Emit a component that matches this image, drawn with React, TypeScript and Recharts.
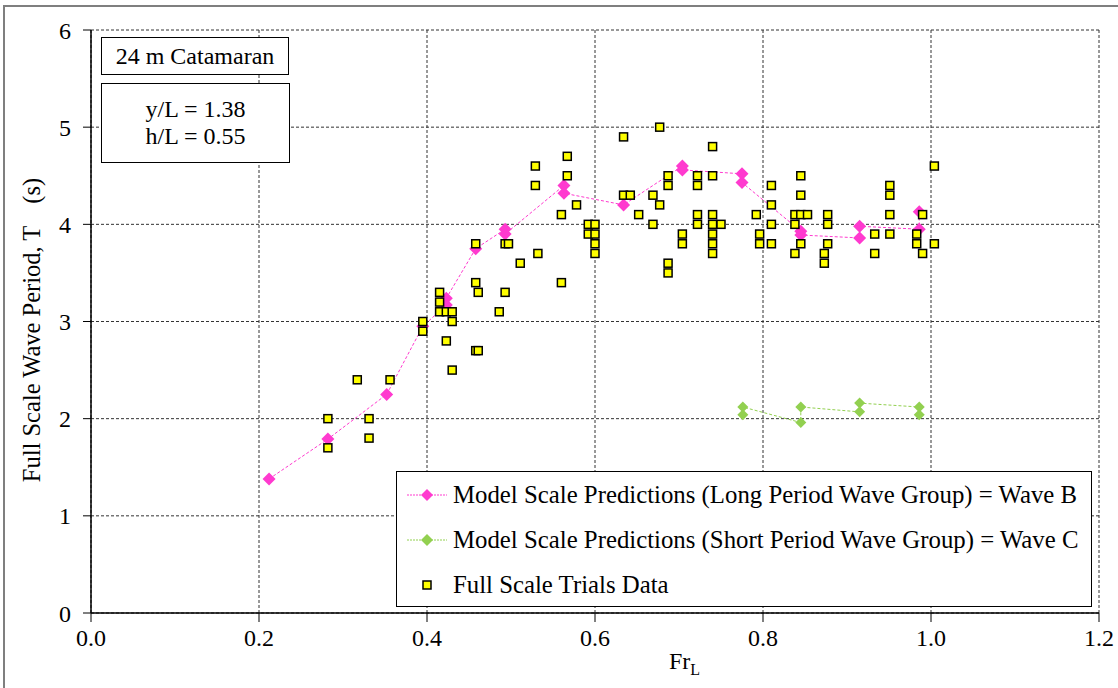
import { ScatterChart, Scatter, XAxis, YAxis, CartesianGrid } from 'recharts';

// Excel-ish look: Times metrics, black axes, dashed grid
const FONT = '"Liberation Serif", "Times New Roman", serif';
const COLOR_WAVE_B = '#FF3ACF';
const COLOR_WAVE_C = '#92D050';
const COLOR_TRIALS = '#FFFF00';
const COLOR_GRID = '#333';

const X_TICKS = [0, 0.2, 0.4, 0.6, 0.8, 1.0, 1.2];
const Y_TICKS = [0, 1, 2, 3, 4, 5, 6];

const LABEL_WAVE_B = 'Model Scale Predictions (Long Period Wave Group) = Wave B';
const LABEL_WAVE_C = 'Model Scale Predictions (Short Period Wave Group) = Wave C';
const LABEL_TRIALS = 'Full Scale Trials Data';

// model scale, long period group (wave B)
const waveBFr = [0.212, 0.282, 0.352, 0.395, 0.423, 0.423, 0.458, 0.493, 0.493, 0.563, 0.563,
  0.634, 0.704, 0.704, 0.775, 0.775, 0.845, 0.845, 0.915, 0.915, 0.986, 0.986];
const waveBT = [1.38, 1.79, 2.25, 2.95, 3.17, 3.24, 3.75, 3.95, 3.9, 4.4, 4.32,
  4.2, 4.6, 4.56, 4.52, 4.43, 3.93, 3.89, 3.86, 3.98, 3.95, 4.13];

// model scale, short period group (wave C)
const waveCFr = [0.776, 0.776, 0.845, 0.845, 0.915, 0.915, 0.986, 0.986];
const waveCT = [2.04, 2.12, 1.96, 2.12, 2.07, 2.16, 2.12, 2.04];

// full scale trials
const trialsFr = [
  0.282, 0.282, 0.317, 0.331, 0.331, 0.356, 0.395, 0.395, 0.415, 0.415, 0.415, 0.423, 0.423,
  0.43, 0.43, 0.43, 0.458, 0.458, 0.458, 0.461, 0.461, 0.486, 0.493, 0.493, 0.497, 0.511,
  0.529, 0.529, 0.532, 0.56, 0.56, 0.567, 0.567, 0.578, 0.592, 0.592, 0.6, 0.6, 0.6, 0.6,
  0.634, 0.634, 0.642, 0.652, 0.669, 0.669, 0.677, 0.677, 0.687, 0.687, 0.687, 0.687,
  0.704, 0.704, 0.722, 0.722, 0.722, 0.722, 0.74, 0.74, 0.74, 0.74, 0.74, 0.74, 0.74, 0.75,
  0.792, 0.796, 0.796, 0.81, 0.81, 0.81, 0.81, 0.838, 0.838, 0.838, 0.845, 0.845, 0.845, 0.845,
  0.853, 0.873, 0.873, 0.877, 0.877, 0.877, 0.933, 0.933, 0.951, 0.951, 0.951, 0.951,
  0.983, 0.983, 0.99, 0.99, 1.004, 1.004,
];
const trialsT = [
  2.0, 1.7, 2.4, 2.0, 1.8, 2.4, 3.0, 2.9, 3.3, 3.2, 3.1, 3.1, 2.8,
  3.1, 3.0, 2.5, 3.8, 3.4, 2.7, 3.3, 2.7, 3.1, 3.8, 3.3, 3.8, 3.6,
  4.6, 4.4, 3.7, 4.1, 3.4, 4.7, 4.5, 4.2, 4.0, 3.9, 4.0, 3.9, 3.8, 3.7,
  4.9, 4.3, 4.3, 4.1, 4.3, 4.0, 5.0, 4.2, 4.5, 4.4, 3.6, 3.5,
  3.9, 3.8, 4.5, 4.4, 4.1, 4.0, 4.8, 4.5, 4.1, 4.0, 3.9, 3.8, 3.7, 4.0,
  4.1, 3.9, 3.8, 4.4, 4.2, 4.0, 3.8, 4.1, 4.0, 3.7, 4.5, 4.3, 4.1, 3.8,
  4.1, 3.7, 3.6, 4.1, 4.0, 3.8, 3.9, 3.7, 4.4, 4.3, 4.1, 3.9,
  3.9, 3.8, 4.1, 3.7, 4.6, 3.8,
];

const toPoints = (fr: number[], t: number[]) => fr.map((x, i) => ({ fr: x, t: t[i] }));
const waveB = toPoints(waveBFr, waveBT);
const waveC = toPoints(waveCFr, waveCT);
const trials = toPoints(trialsFr, trialsT);

const diamond = (color: string, r: number) => (props: any) => {
  const { cx, cy } = props;
  return (
    <polygon
      points={`${cx},${cy - r} ${cx + r},${cy} ${cx},${cy + r} ${cx - r},${cy}`}
      fill={color}
    />
  );
};

const square = (props: any) => {
  const { cx, cy } = props;
  return (
    <rect x={cx - 4} y={cy - 4} width={8} height={8} fill={COLOR_TRIALS} stroke="#000" strokeWidth={1.5} />
  );
};

const tickStyle = { fontSize: 24, fill: '#000', fontFamily: FONT };

function LegendRow({ kind, label }: { kind: 'b' | 'c' | 't'; label: string }) {
  const color = kind === 'b' ? COLOR_WAVE_B : COLOR_WAVE_C;
  return (
    <div style={{ display: 'flex', alignItems: 'center', height: 45 }}>
      <svg width={56} height={20} style={{ flexShrink: 0 }}>
        {kind === 't' ? (
          <rect x={26} y={6} width={8} height={8} fill={COLOR_TRIALS} stroke="#000" strokeWidth={1.5} />
        ) : (
          <>
            <line x1={10} y1={10} x2={50} y2={10} stroke={color} strokeWidth={1} strokeDasharray="2 1" />
            <polygon points={`30,${10 - 6} 36,10 30,16 24,10`} fill={color} />
          </>
        )}
      </svg>
      <span style={{ fontFamily: FONT, fontSize: 24.8, whiteSpace: 'nowrap' }}>{label}</span>
    </div>
  );
}

export default function App() {
  return (
    <div style={{ position: 'absolute', left: 0, top: 0, width: 1118, height: 688, overflow: 'hidden', background: '#fff' }}>
      <div style={{ position: 'absolute', left: 3, top: 5, width: 1140, height: 700, border: '2px solid #7f7f7f' }} />
      <ScatterChart
        width={1118}
        height={688}
        margin={{ top: 30, right: 19, left: 0, bottom: 0 }}
        style={{ position: 'absolute', left: 0, top: 0 }}
      >
        <CartesianGrid stroke={COLOR_GRID} strokeDasharray="3 2" />
        <XAxis
          type="number"
          dataKey="fr"
          domain={[0, 1.2]}
          ticks={X_TICKS}
          interval={0}
          tickFormatter={(v: number) => v.toFixed(1)}
          tick={tickStyle}
          tickSize={9}
          tickMargin={7}
          height={75}
          axisLine={{ stroke: '#000', strokeWidth: 1.5 }}
          tickLine={{ stroke: '#000' }}
          label={() => (
            <text x={669} y={669} fontFamily={FONT} fontSize={24} fill="#000">
              Fr<tspan fontSize={16} dy={6}>L</tspan>
            </text>
          )}
        />
        <YAxis
          type="number"
          dataKey="t"
          domain={[0, 6]}
          ticks={Y_TICKS}
          interval={0}
          tick={tickStyle}
          tickSize={8}
          tickMargin={12}
          width={91}
          axisLine={{ stroke: '#000', strokeWidth: 1.5 }}
          tickLine={{ stroke: '#000' }}
          label={() => (
            <text
              x={40}
              y={330}
              transform="rotate(-90 40 330)"
              textAnchor="middle"
              fontFamily={FONT}
              fontSize={24.5}
              fill="#000"
            >
              Full Scale Wave Period, T<tspan dx={22}>(s)</tspan>
            </text>
          )}
        />
        <Scatter
          name={LABEL_WAVE_B}
          data={waveB}
          fill={COLOR_WAVE_B}
          line={{ stroke: COLOR_WAVE_B, strokeWidth: 1, strokeDasharray: '3 2' }}
          lineType="joint"
          shape={diamond(COLOR_WAVE_B, 6.5)}
          isAnimationActive={false}
        />
        <Scatter
          name={LABEL_WAVE_C}
          data={waveC}
          fill={COLOR_WAVE_C}
          line={{ stroke: COLOR_WAVE_C, strokeWidth: 1, strokeDasharray: '3 2' }}
          lineType="joint"
          shape={diamond(COLOR_WAVE_C, 5.5)}
          isAnimationActive={false}
        />
        <Scatter
          name={LABEL_TRIALS}
          data={trials}
          fill={COLOR_TRIALS}
          shape={square}
          isAnimationActive={false}
        />
      </ScatterChart>

      {/* annotation boxes */}
      <div
        style={{
          position: 'absolute', left: 101, top: 37, width: 186, height: 36,
          border: '1px solid #000', background: '#fff', fontFamily: FONT, fontSize: 24,
          display: 'flex', alignItems: 'center', justifyContent: 'center',
        }}
      >
        24 m Catamaran
      </div>
      <div
        style={{
          position: 'absolute', left: 101, top: 83, width: 187, height: 78,
          border: '1px solid #000', background: '#fff', fontFamily: FONT, fontSize: 24,
          display: 'flex', flexDirection: 'column', alignItems: 'center', justifyContent: 'center',
          lineHeight: '27px',
        }}
      >
        <div>y/L = 1.38</div>
        <div>h/L = 0.55</div>
      </div>

      {/* legend */}
      <div
        style={{
          position: 'absolute', left: 396, top: 471, width: 694, height: 134,
          border: '1px solid #000', background: '#fff', boxSizing: 'content-box',
        }}
      >
        <LegendRow kind="b" label={LABEL_WAVE_B} />
        <LegendRow kind="c" label={LABEL_WAVE_C} />
        <LegendRow kind="t" label={LABEL_TRIALS} />
      </div>
    </div>
  );
}
